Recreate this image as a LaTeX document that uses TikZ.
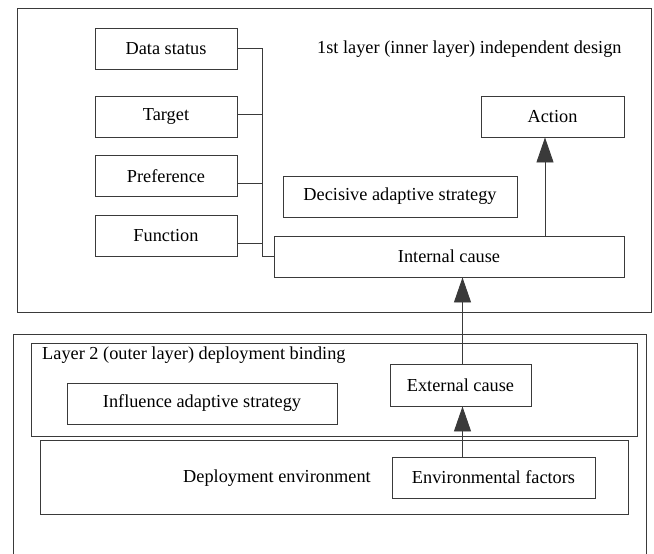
\documentclass[tikz,border=0pt]{standalone}
\usepackage{fontspec}
\setmainfont{Liberation Serif}
\usepackage{xcolor}
\usepackage{tikz}
\usetikzlibrary{positioning,arrows.meta,calc}
\definecolor{lineGray}{HTML}{3A3A3A}

\begin{document}
\begin{tikzpicture}[
    x=1pt, y=-1pt,
    box/.style={draw=lineGray, line width=0.9pt, inner sep=0pt, minimum height=41pt, font=\fontsize{18.3}{20}\selectfont, align=center},
    frame/.style={draw=lineGray, line width=0.9pt, inner sep=0pt},
    lbl/.style={inner sep=0pt, font=\fontsize{18.3}{20}\selectfont},
    link/.style={draw=lineGray, line width=0.9pt},
    arrow/.style={link, -{Triangle[length=25pt, width=17pt]}}
  ]
  \useasboundingbox (0,0) rectangle (654,554);

  % 1st layer frame
  \node[frame, minimum width=634pt, minimum height=304pt] (inner) at (334,160) {};
  \node[lbl, anchor=west] (innerlbl) at (317,49) {1st layer (inner layer) independent design};

  % inner causes
  \node[box, minimum width=142pt] (data) at (166,48.5) {Data status};
  \node[box, minimum width=142pt] (target) at (166,116.5) {Target};
  \node[box, minimum width=142pt] (pref) at (166,176) {Preference};
  \node[box, minimum width=142pt] (func) at (166,235.5) {Function};

  \node[box, minimum width=350pt] (internal) at (449,256.5) {Internal cause};
  \node[box, minimum width=234pt] (decisive) at (400,196.5) {Decisive adaptive strategy};
  \node[box, minimum width=143pt] (action) at (552.5,116.5) {Action};

  % bus into internal cause
  \coordinate (bus) at (262.5,48.5);
  \draw[link] (data.east) -- (bus);
  \draw[link] ([yshift=2pt]target.east) -- ([yshift=2pt]target.east -| bus);
  \draw[link] ([yshift=-7pt]pref.east) -- ([yshift=-7pt]pref.east -| bus);
  \draw[link] ([yshift=-7.5pt]func.east) -- ([yshift=-7.5pt]func.east -| bus);
  \draw[link] (bus) -- (bus |- internal.west) -- (internal.west);

  \draw[arrow] ([xshift=-7.5pt]action.south |- internal.north) -- ([xshift=-7.5pt]action.south);

  % 2nd layer frame (open at the bottom)
  \coordinate (outerL) at (13,334);
  \coordinate (outerR) at (646,334);
  \draw[link] (13,560) -- (outerL) -- (outerR) -- (646,560);

  \node[frame, minimum width=606pt, minimum height=93pt] (layer2) at (334,389.5) {};
  \node[lbl, anchor=west] (layer2lbl) at (42,355) {Layer 2 (outer layer) deployment binding};
  \node[box, minimum width=270pt] (influence) at (202,403.5) {Influence adaptive strategy};
  \node[box, minimum width=141pt, minimum height=42pt] (external) at (460.5,385) {External cause};

  % deployment environment
  \node[frame, minimum width=588pt, minimum height=74pt] (deploy) at (334,477) {};
  \node[lbl] (deploylbl) at (277,478) {Deployment environment};
  \node[box, minimum width=203pt] (envfac) at (493.5,477.5) {Environmental factors};

  \draw[arrow] ([xshift=2pt]external.south |- envfac.north) -- ([xshift=2pt]external.south);
  \draw[arrow] ([xshift=2pt]external.north) -- ([xshift=2pt]external.north |- internal.south);
\end{tikzpicture}
\end{document}
